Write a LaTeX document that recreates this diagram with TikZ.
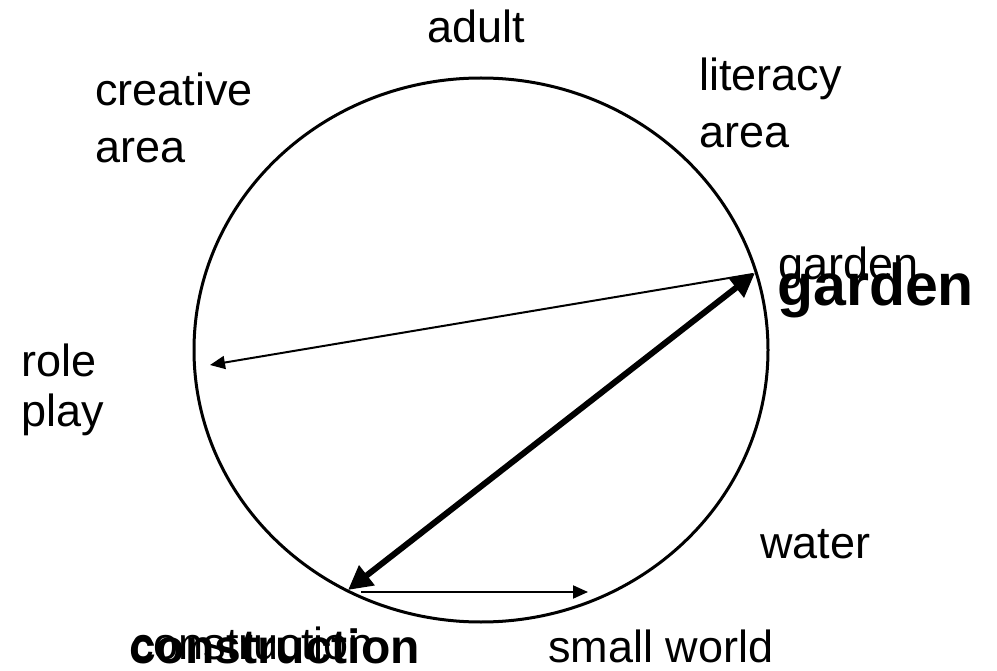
\documentclass[tikz,border=0pt]{standalone}
\usepackage{fontspec}
\setmainfont{Liberation Sans}
\usetikzlibrary{arrows.meta,shapes.geometric}
\newcommand{\twoline}[2]{\begin{tabular}[t]{@{}l@{}}#1\\#2\end{tabular}}
\tikzset{
  lbl/.style={anchor=base west, inner sep=0pt, font=\fontsize{45}{57}\selectfont},
  lbltight/.style={anchor=base west, inner sep=0pt, font=\fontsize{45}{50}\selectfont},
  bigbold/.style={anchor=base west, inner sep=0pt, font=\fontsize{#1}{#1}\selectfont\bfseries},
  ring/.style={ellipse, draw, line width=3pt, minimum width=574pt, minimum height=544pt, inner sep=0pt},
  thinarrow/.style={line width=2pt, -{Triangle[length=15pt,width=13pt]}},
  thickarrow/.style={line width=6pt, {Triangle[length=24pt,width=24pt]}-{Triangle[length=24pt,width=24pt]}}
}
\begin{document}
\begin{tikzpicture}[x=1pt,y=-1pt]
\useasboundingbox (0,0) rectangle (997,671);
\node[ring] (circle) at (481,350) {};
% labels
\node[lbl] (adult) at (427,43) {adult};
\node[lbl] (creative) at (95,106) {\twoline{creative}{area}};
\node[lbl] (literacy) at (699,91) {\twoline{literacy}{area}};
\node[lbltight] (role) at (21,377) {\twoline{role}{play}};
\node[lbl] (water) at (760,558) {water};
\node[lbl] (small) at (548,662) {small world};
\node[lbl] (garden) at (778,280) {garden};
\node[bigbold=59] (gardenb) at (777,306) {garden};
\node[lbl] (constr) at (131,659) {construction};
\node[bigbold=48] (constrb) at (129,663) {construction};
% points on the ring
\coordinate (g) at (755,273);
\coordinate (g2) at (753,274);
\coordinate (r) at (210,365);
\coordinate (c) at (348,590);
\coordinate (s1) at (361,592);
\coordinate (s2) at (588,592);
% connectors
\draw[thinarrow] (g2) -- (r);
\draw[thickarrow] (c) -- (g);
\draw[thinarrow] (s1) -- (s2);
\end{tikzpicture}
\end{document}
